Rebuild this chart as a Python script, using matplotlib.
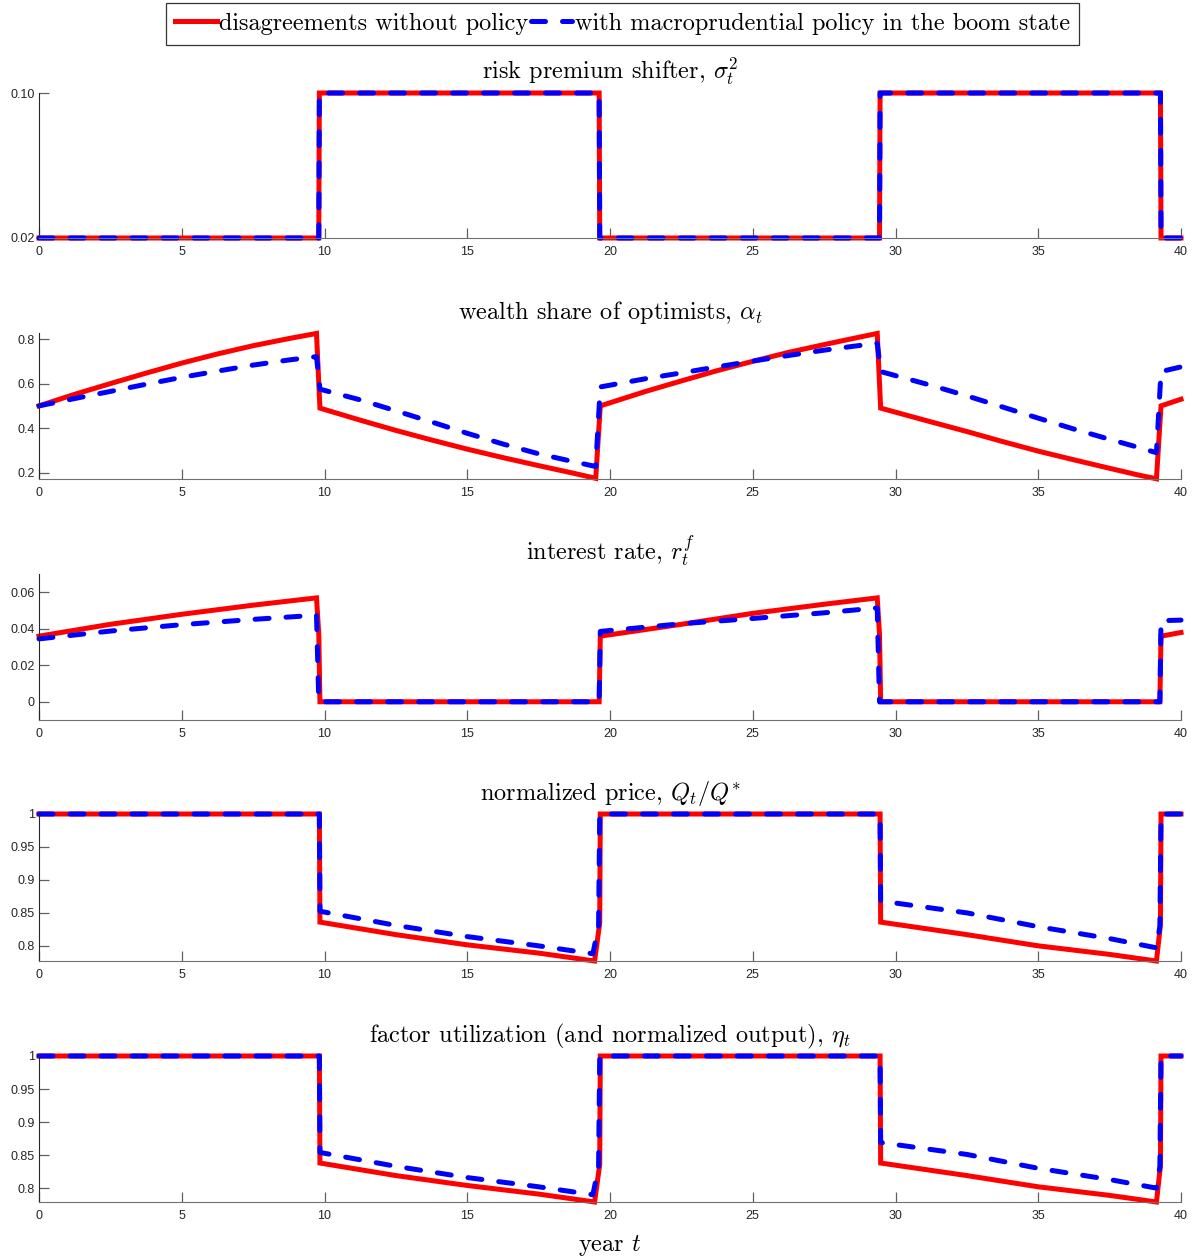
import matplotlib
matplotlib.use('Agg')
import matplotlib.pyplot as plt
from matplotlib.ticker import FixedLocator, FixedFormatter

# serif text like LaTeX, math in Computer Modern
plt.rcParams['font.family'] = 'serif'
plt.rcParams['font.serif'] = ['cmr10', 'DejaVu Serif']
plt.rcParams['mathtext.fontset'] = 'cm'
plt.rcParams['axes.unicode_minus'] = False
plt.rcParams['axes.formatter.use_mathtext'] = True

# ---- data ----
legend_labels = ['disagreements without policy',
                 'with macroprudential policy in the boom state']
titles = [r'risk premium shifter, $\sigma_t^2$',
          r'wealth share of optimists, $\alpha_t$',
          r'interest rate, $r_t^f$',
          r'normalized price, $Q_t/Q^{\ast}$',
          r'factor utilization (and normalized output), $\eta_t$']

# risk premium shifter (same for both)
t_sigma = [0, 9.80, 9.82, 19.62, 19.64, 29.44, 29.46, 39.28, 39.30, 40]
sigma_red = [0.02, 0.02, 0.10, 0.10, 0.02, 0.02, 0.10, 0.10, 0.02, 0.02]
sigma_blue = [0.02, 0.02, 0.10, 0.10, 0.02, 0.02, 0.10, 0.10, 0.02, 0.02]

# wealth share of optimists
t_alpha = [0, 1.25, 2.5, 3.75, 5, 6.25, 7.5, 8.75, 9.72,
           9.84, 11.25, 12.5, 13.75, 15, 16.25, 17.5, 18.75, 19.5,
           19.66, 21.25, 22.5, 23.75, 25, 26.25, 27.5, 28.5, 29.36,
           29.48, 31.25, 32.5, 33.75, 35, 36.25, 37.5, 38.5, 39.14,
           39.30, 40]
alpha_red = [0.50, 0.552, 0.60, 0.647, 0.692, 0.733, 0.770, 0.802, 0.825,
             0.49, 0.436, 0.390, 0.347, 0.306, 0.268, 0.232, 0.197, 0.175,
             0.50, 0.565, 0.612, 0.658, 0.700, 0.740, 0.775, 0.802, 0.825,
             0.49, 0.428, 0.385, 0.340, 0.297, 0.258, 0.220, 0.190, 0.173,
             0.50, 0.53]
alpha_blue = [0.50, 0.533, 0.565, 0.597, 0.628, 0.656, 0.683, 0.706, 0.721,
              0.575, 0.527, 0.478, 0.428, 0.377, 0.329, 0.285, 0.249, 0.228,
              0.585, 0.622, 0.648, 0.675, 0.701, 0.726, 0.750, 0.767, 0.781,
              0.654, 0.592, 0.545, 0.495, 0.445, 0.396, 0.350, 0.314, 0.29,
              0.654, 0.675]

# interest rate
t_rate_red = [0, 2.5, 5, 7.5, 9.72, 9.80, 9.84, 19.62, 19.66, 22.5, 25, 27.5,
              29.36, 29.44, 29.48, 39.26, 39.30, 40]
rate_red = [0.036, 0.0425, 0.048, 0.053, 0.057, 0.037, 0.0, 0.0, 0.036, 0.0425,
            0.0485, 0.0535, 0.057, 0.037, 0.0, 0.0, 0.036, 0.038]
t_rate_blue = [0, 2.5, 5, 7.5, 9.72, 9.80, 19.62, 19.66, 22.5, 25, 27.5,
               29.36, 29.44, 39.26, 39.30, 40]
rate_blue = [0.0345, 0.0388, 0.0423, 0.0452, 0.0475, 0.0, 0.0, 0.0386, 0.0428,
             0.0457, 0.0488, 0.0515, 0.0, 0.0, 0.0445, 0.0448]

# normalized price
t_price_red = [0, 9.82, 9.84, 12.5, 15, 17.5, 19.46, 19.64, 19.66, 29.46, 29.48,
               32.5, 35, 37.5, 39.14, 39.28, 39.30, 40]
price_red = [1, 1, 0.836, 0.817, 0.8015, 0.789, 0.777, 0.835, 1, 1, 0.836,
             0.817, 0.800, 0.787, 0.777, 0.832, 1, 1]
t_price_blue = [0, 9.82, 9.84, 12.5, 15, 17.5, 19.4, 19.6, 19.64, 29.46, 29.48,
                32.5, 35, 37.5, 39.14, 39.26, 39.30, 40]
price_blue = [1, 1, 0.8525, 0.831, 0.814, 0.80, 0.788, 0.83, 1, 1, 0.868,
              0.85, 0.829, 0.811, 0.797, 0.83, 1, 1]

# factor utilization
eta_red = [1, 1, 0.838, 0.819, 0.804, 0.791, 0.779, 0.836, 1, 1, 0.838,
           0.819, 0.802, 0.789, 0.779, 0.834, 1, 1]
eta_blue = [1, 1, 0.854, 0.833, 0.816, 0.802, 0.790, 0.832, 1, 1, 0.869,
            0.851, 0.830, 0.813, 0.80, 0.832, 1, 1]

series = [
    (t_sigma, sigma_red, t_sigma, sigma_blue),
    (t_alpha, alpha_red, t_alpha, alpha_blue),
    (t_rate_red, rate_red, t_rate_blue, rate_blue),
    (t_price_red, price_red, t_price_blue, price_blue),
    (t_price_red, eta_red, t_price_blue, eta_blue),
]
ylims = [(0.02, 0.10), (0.172, 0.827), (-0.01, 0.0701), (0.777, 1.0), (0.779, 1.0)]
yticks = [[0.02, 0.10], [0.2, 0.4, 0.6, 0.8], [0, 0.02, 0.04, 0.06],
          [0.8, 0.85, 0.9, 0.95, 1], [0.8, 0.85, 0.9, 0.95, 1]]
yticklabels = [['0.02', '0.10'], ['0.2', '0.4', '0.6', '0.8'],
               ['0', '0.02', '0.04', '0.06'],
               ['0.8', '0.85', '0.9', '0.95', '1'], ['0.8', '0.85', '0.9', '0.95', '1']]
xticks = [0, 5, 10, 15, 20, 25, 30, 35, 40]

# ---- figure ----
W, H = 1195, 1259
fig = plt.figure(figsize=(W / 100, H / 100), dpi=100)
ax_px = [(93, 238), (333, 479), (574, 720), (814, 961), (1056, 1202)]
left, right = 39, 1181

tick_font = {'family': 'Liberation Sans', 'size': 9}
axes = []
for i, (top, bot) in enumerate(ax_px):
    ax = fig.add_axes([left / W, 1 - bot / H, (right - left) / W, (bot - top) / H])
    tr, yr, tb, yb = series[i]
    l1, = ax.plot(tr, yr, color='red', lw=3.6, clip_on=False,
                  solid_joinstyle='miter')
    l2, = ax.plot(tb, yb, color='blue', lw=3.6, clip_on=False,
                  dashes=(2.8, 3.4), dash_capstyle='round')
    ax.set_xlim(0, 40)
    ax.set_ylim(*ylims[i])
    ax.set_xticks(xticks)
    ax.set_xticklabels([str(x) for x in xticks], fontdict=tick_font, color='#262626')
    ax.yaxis.set_major_locator(FixedLocator(yticks[i]))
    ax.yaxis.set_major_formatter(FixedFormatter(yticklabels[i]))
    for lab in ax.get_yticklabels():
        lab.set_fontfamily('Liberation Sans')
        lab.set_fontsize(9)
        lab.set_color('#262626')
    ax.spines['top'].set_visible(False)
    ax.spines['right'].set_visible(False)
    ax.spines['left'].set_color('#262626')
    ax.spines['bottom'].set_color('#707070')
    ax.tick_params(axis='x', direction='in', length=7, width=0.9, color='#606060', pad=6)
    ax.tick_params(axis='y', direction='in', length=7, width=0.9, color='#606060', pad=3)
    ax.set_title(titles[i], fontsize=17.5, pad=10)
    axes.append(ax)

axes[-1].set_xlabel(r'year $t$', fontsize=17.5, labelpad=8)

leg = fig.legend([l1, l2], legend_labels, loc='upper center',
                 bbox_to_anchor=(0.521, 1 - 3 / H), ncol=2, fontsize=17.5,
                 frameon=True, fancybox=False, edgecolor='black',
                 handlelength=1.7, handletextpad=0.1, columnspacing=0.1,
                 borderpad=0.4, borderaxespad=0)
leg.get_frame().set_linewidth(0.9)

fig.savefig('out.png', dpi=100)
